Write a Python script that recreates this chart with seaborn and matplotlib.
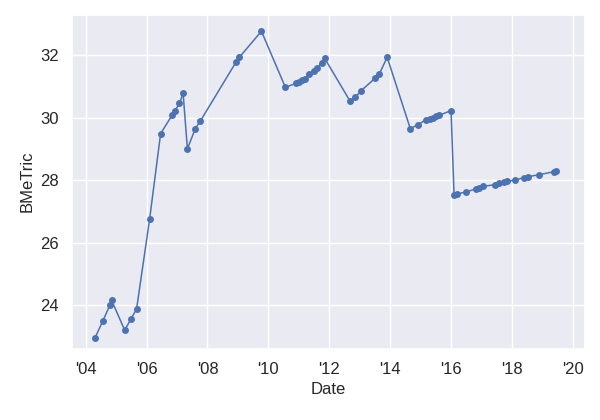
import matplotlib
matplotlib.use("Agg")
import matplotlib.pyplot as plt
import matplotlib.dates as mdates
import seaborn as sns
import pandas as pd
import numpy as np

years = [2004.3, 2004.56, 2004.8, 2004.85, 2005.28, 2005.48, 2005.67, 2006.1, 2006.46,
         2006.85, 2006.92, 2007.08, 2007.2, 2007.34, 2007.6, 2007.77, 2008.95, 2009.05,
         2009.77, 2010.56, 2010.9, 2011.0, 2011.1, 2011.2, 2011.35, 2011.5, 2011.6,
         2011.75, 2011.85, 2012.69, 2012.85, 2013.05, 2013.5, 2013.64, 2013.9, 2014.66,
         2014.92, 2015.18, 2015.3, 2015.4, 2015.5, 2015.6, 2016.0, 2016.1, 2016.2,
         2016.5, 2016.82, 2016.92, 2017.05, 2017.44, 2017.57, 2017.74, 2017.84, 2018.1,
         2018.39, 2018.52, 2018.89, 2019.38, 2019.44]
bmetric = [22.93, 23.48, 24.0, 24.15, 23.19, 23.54, 23.87, 26.76, 29.49,
           30.1, 30.2, 30.46, 30.78, 29.0, 29.65, 29.9, 31.8, 31.94,
           32.77, 30.97, 31.1, 31.15, 31.2, 31.25, 31.4, 31.5, 31.6,
           31.75, 31.9, 30.52, 30.65, 30.87, 31.26, 31.39, 31.94, 29.65,
           29.78, 29.94, 29.97, 30.0, 30.04, 30.07, 30.23, 27.53, 27.56,
           27.62, 27.72, 27.76, 27.8, 27.85, 27.9, 27.93, 27.96, 28.0,
           28.08, 28.11, 28.17, 28.27, 28.3]


def to_date(y):
    yr = int(y)
    start = pd.Timestamp(year=yr, month=1, day=1)
    return start + pd.Timedelta(days=(y - yr) * 365.25)


df = pd.DataFrame({"Date": [to_date(y) for y in years], "BMeTric": bmetric})

sns.set_theme(style="darkgrid")
plt.rcParams["font.family"] = ["Arial", "Liberation Sans", "DejaVu Sans"]

fig, ax = plt.subplots(figsize=(6, 4.2), dpi=100)
sns.lineplot(data=df, x="Date", y="BMeTric", marker="o", markersize=5,
             markeredgewidth=0, linewidth=1.1, color="#4c72b0", ax=ax)

ax.xaxis.set_major_locator(mdates.YearLocator(2))
ax.xaxis.set_major_formatter(mdates.DateFormatter("'%y"))
ax.set_xlim(to_date(2003.55), to_date(2020.4))
ax.set_ylim(22.6, 33.3)
ax.set_yticks([24, 26, 28, 30, 32])
ax.tick_params(labelsize=12)
ax.set_xlabel("Date", fontsize=12)
ax.set_ylabel("BMeTric", fontsize=12)

fig.subplots_adjust(left=0.12, right=0.975, top=0.965, bottom=0.17)
fig.savefig("out.png", dpi=100)
